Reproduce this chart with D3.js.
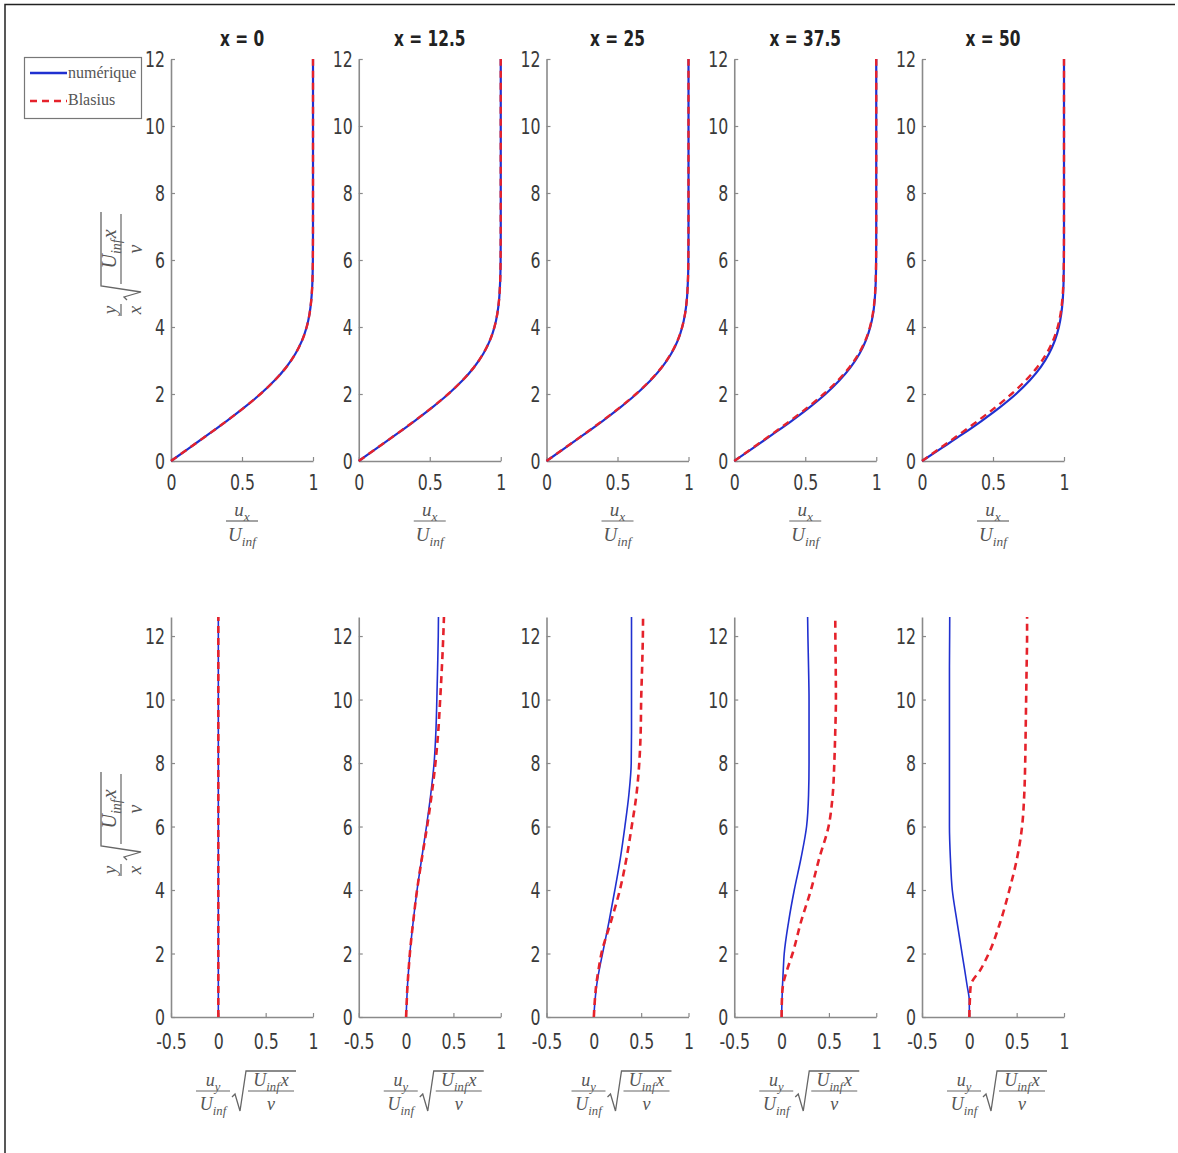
<!DOCTYPE html>
<html><head><meta charset="utf-8">
<script src="https://cdn.jsdelivr.net/npm/d3@7"></script>
<style>
body{margin:0;background:#fff;}
.math{font-family:'Liberation Serif','DejaVu Serif',serif;font-style:italic;fill:#555;}
</style></head>
<body>
<script>
// ---------- data ----------
const titles = ["x = 0", "x = 12.5", "x = 25", "x = 37.5", "x = 50"];
const seriesNames = ["numérique", "Blasius"];
const topYTicks = [0, 2, 4, 6, 8, 10, 12];
const topXTicks = [0, 0.5, 1];
const botYTicks = [0, 2, 4, 6, 8, 10, 12];
const botXTicks = [-0.5, 0, 0.5, 1];

// top row: u_x / U_inf vs eta
const etaTop = [0, 0.4, 0.8, 1.2, 1.6, 2.0, 2.4, 2.8, 3.2, 3.6, 4.0, 4.4, 4.8, 5.2, 5.6, 6.0, 7.0, 8.0, 12.0];
const uxBlasius = [0, 0.1328, 0.2647, 0.3938, 0.5168, 0.6298, 0.7290, 0.8115, 0.8761, 0.9233, 0.9555, 0.9759, 0.9878, 0.9943, 0.9975, 0.9990, 0.9999, 1, 1];
const uxNum1 = [0, 0.1328, 0.2647, 0.3938, 0.5168, 0.6298, 0.7290, 0.8115, 0.8761, 0.9233, 0.9555, 0.9759, 0.9878, 0.9943, 0.9975, 0.9990, 0.9999, 1, 1];
const uxNum2 = [0, 0.133, 0.266, 0.395, 0.518, 0.631, 0.730, 0.812, 0.877, 0.924, 0.956, 0.976, 0.988, 0.994, 0.9976, 0.999, 1, 1, 1];
const uxNum3 = [0, 0.134, 0.267, 0.397, 0.520, 0.633, 0.732, 0.814, 0.878, 0.925, 0.956, 0.976, 0.988, 0.994, 0.9976, 0.999, 1, 1, 1];
const uxNum4 = [0, 0.137, 0.272, 0.405, 0.530, 0.643, 0.740, 0.820, 0.882, 0.927, 0.958, 0.978, 0.989, 0.995, 0.998, 0.999, 1, 1, 1];
const uxNum5 = [0, 0.143, 0.285, 0.421, 0.548, 0.662, 0.758, 0.836, 0.894, 0.936, 0.964, 0.981, 0.991, 0.996, 0.998, 0.9994, 1, 1, 1];
const uxNumerique = [uxNum1, uxNum2, uxNum3, uxNum4, uxNum5];

// bottom row: u_y/U_inf*sqrt(U_inf x/nu) vs eta
const etaBot = [0, 0.5, 1, 1.5, 2, 3, 4, 5, 6, 7, 8, 9, 10, 11, 12, 12.6];
const uyNum1 = [0, 0, 0, 0, 0, 0, 0, 0, 0, 0, 0, 0, 0, 0, 0, 0];
const uyNum2 = [0, 0.007, 0.015, 0.027, 0.04, 0.075, 0.116, 0.165, 0.215, 0.26, 0.296, 0.315, 0.325, 0.333, 0.34, 0.342];
const uyNum3 = [0, 0.012, 0.03, 0.058, 0.092, 0.16, 0.222, 0.28, 0.328, 0.37, 0.395, 0.398, 0.398, 0.398, 0.398, 0.398];
const uyNum4 = [0, 0.004, 0.01, 0.018, 0.028, 0.074, 0.134, 0.205, 0.264, 0.285, 0.29, 0.29, 0.29, 0.285, 0.278, 0.275];
const uyNum5 = [0, 0, -0.024, -0.05, -0.077, -0.13, -0.18, -0.2, -0.21, -0.21, -0.21, -0.21, -0.21, -0.21, -0.208, -0.207];
const uyBla1 = [0, 0, 0, 0, 0, 0, 0, 0, 0, 0, 0, 0, 0, 0, 0, 0];
const uyBla2 = [0, 0.007, 0.015, 0.027, 0.04, 0.075, 0.116, 0.167, 0.222, 0.27, 0.31, 0.34, 0.36, 0.378, 0.393, 0.40];
const uyBla3 = [0, 0.01, 0.025, 0.05, 0.08, 0.18, 0.275, 0.345, 0.40, 0.45, 0.48, 0.495, 0.50, 0.51, 0.518, 0.52];
const uyBla4 = [0, 0.003, 0.015, 0.06, 0.116, 0.205, 0.31, 0.398, 0.496, 0.54, 0.557, 0.567, 0.574, 0.572, 0.568, 0.567];
const uyBla5 = [0, 0.005, 0.015, 0.12, 0.205, 0.328, 0.423, 0.504, 0.557, 0.58, 0.59, 0.595, 0.60, 0.605, 0.61, 0.61];
const uyNumerique = [uyNum1, uyNum2, uyNum3, uyNum4, uyNum5];
const uyBlasius = [uyBla1, uyBla2, uyBla3, uyBla4, uyBla5];

// ---------- drawing ----------
const W = 1178, H = 1153;
const svg = d3.select("body").append("svg").attr("width", W).attr("height", H);
svg.append("rect").attr("width", W).attr("height", H).attr("fill", "#fff");
svg.append("path").attr("d", "M5,1153 V4.5 H1175").attr("fill", "none").attr("stroke", "#222").attr("stroke-width", 1.5);

const blue = "#2030d0", red = "#e5222b", axisCol = "#8a8a8a", textCol = "#3a3a3a";
const panelX = d3.scaleBand().domain(d3.range(5)).range([171, 171 + 5 * 187.75]).paddingInner(0);
const pw = 142;
const tickFont = "'DejaVu Sans',sans-serif";
const SX = 0.75;

const yTop = d3.scaleLinear().domain([0, 12]).range([461, 59]);
const yBot = d3.scaleLinear().domain([0, 12.6]).range([1017, 617]);

function drawAxes(g, x, y, xTicks, yTicks, xFmt, xPad) {
  const ax = g.append("g").attr("transform", `translate(0,${y.range()[0]})`)
    .call(d3.axisBottom(x).tickValues(xTicks).tickSize(-4).tickSizeOuter(0).tickPadding(xPad).tickFormat(xFmt));
  const ay = g.append("g").attr("transform", `translate(${x.range()[0]},0)`)
    .call(d3.axisLeft(y).tickValues(yTicks).tickSize(-4).tickSizeOuter(0).tickPadding(8).tickFormat(d3.format("d")));
  [ax, ay].forEach(a => {
    a.select(".domain").attr("stroke", axisCol).attr("stroke-width", 1.6);
    a.selectAll(".tick line").attr("stroke", axisCol).attr("stroke-width", 1.2);
    a.selectAll(".tick text").attr("fill", textCol).attr("font-size", 21)
      .attr("font-family", tickFont).attr("transform", `scale(${SX},1)`);
  });
  ax.selectAll(".tick text").attr("dy", "0.72em");
  ay.selectAll(".tick text").attr("dy", "0.36em");
}

function drawLine(g, x, y, etas, vals, color, dashed, width) {
  const line = d3.line().x(d => x(d[1])).y(d => y(d[0])).curve(d3.curveMonotoneY);
  g.append("path").datum(etas.map((e, i) => [e, vals[i]]))
    .attr("d", line).attr("fill", "none").attr("stroke", color)
    .attr("stroke-width", width).attr("stroke-dasharray", dashed ? "7,5" : null);
}

function mathText(g, x, y, parts, size) {
  const t = g.append("text").attr("class", "math").attr("x", x).attr("y", y)
    .attr("font-size", size).attr("text-anchor", "middle");
  parts.forEach(p => {
    const ts = t.append("tspan").text(p.t);
    if (p.sub) ts.attr("font-size", size * 0.7).attr("dy", size * 0.25);
    else if (p.back) ts.attr("dy", -size * 0.25).attr("dx", 1);
  });
  return t;
}
const U_inf = [{t: "U"}, {t: "inf", sub: true}];
function frac(g, cx, cy, num, den, size, w) {
  mathText(g, cx, cy - 5, num, size);
  g.append("line").attr("x1", cx - w / 2).attr("x2", cx + w / 2).attr("y1", cy).attr("y2", cy)
    .attr("stroke", "#666").attr("stroke-width", 1.2);
  mathText(g, cx, cy + size + 1, den, size);
}
function sqrtFrac(g, x0, cy, size, w) {
  g.append("path").attr("d", `M${x0},${cy + 6} l3,-3 l5,17 l6,-40 H${x0 + 18 + w}`)
    .attr("fill", "none").attr("stroke", "#666").attr("stroke-width", 1.3);
  const cx = x0 + 16 + w / 2;
  frac(g, cx, cy, [{t: "U"}, {t: "inf", sub: true}, {t: "x", back: true}], [{t: "ν"}], size, w);
}

for (let i = 0; i < 5; i++) {
  const x0 = panelX(i);
  // top panel
  const gt = svg.append("g");
  const xt = d3.scaleLinear().domain([0, 1]).range([x0, x0 + pw]);
  drawAxes(gt, xt, yTop, topXTicks, topYTicks, d => d === 0 || d === 1 ? d3.format("d")(d) : d3.format(".1f")(d), 14);
  drawLine(gt, xt, yTop, etaTop, uxNumerique[i], blue, false, 2.2);
  drawLine(gt, xt, yTop, etaTop, uxBlasius, red, true, 2.4);
  gt.append("g").attr("transform", `translate(${x0 + pw / 2},46) scale(0.7,1)`)
    .append("text").attr("text-anchor", "middle")
    .attr("font-size", 22).attr("font-weight", "bold").attr("font-family", tickFont)
    .attr("fill", "#222").text(titles[i]);
  frac(gt, x0 + pw / 2, 521, [{t: "u"}, {t: "x", sub: true}], U_inf, 19, 32);
  // bottom panel
  const gb = svg.append("g");
  const xb = d3.scaleLinear().domain([-0.5, 1]).range([x0, x0 + pw]);
  drawAxes(gb, xb, yBot, botXTicks, botYTicks, d => d === 0 || d === 1 ? d3.format("d")(d) : d3.format(".1f")(d).replace("−", "-"), 17);
  drawLine(gb, xb, yBot, etaBot, uyNumerique[i], blue, false, 1.6);
  drawLine(gb, xb, yBot, etaBot, uyBlasius[i], red, true, 2.6);
  const bx = x0 + 42;
  frac(gb, bx, 1091, [{t: "u"}, {t: "y", sub: true}], U_inf, 18, 34);
  sqrtFrac(gb, bx + 19, 1091, 18, 46);
}

// y-axis labels (rotated)
function yLabel(cy) {
  const g = svg.append("g").attr("transform", `translate(121,${cy}) rotate(-90)`);
  frac(g, -52, 0, [{t: "y"}], [{t: "x"}], 19, 12);
  sqrtFrac(g, -42, 0, 20, 70);
}
yLabel(258);
yLabel(818);

// legend
const lg = svg.append("g");
lg.append("rect").attr("x", 24.5).attr("y", 57.5).attr("width", 117).attr("height", 61)
  .attr("fill", "#fff").attr("stroke", "#777").attr("stroke-width", 1.2);
lg.append("line").attr("x1", 30).attr("x2", 67).attr("y1", 73).attr("y2", 73).attr("stroke", blue).attr("stroke-width", 2.4);
lg.append("line").attr("x1", 30).attr("x2", 67).attr("y1", 101).attr("y2", 101).attr("stroke", red).attr("stroke-width", 2.6).attr("stroke-dasharray", "7,5");
seriesNames.forEach((n, k) => {
  lg.append("text").attr("x", 68).attr("y", 78 + k * 27).attr("font-size", 16)
    .attr("font-family", "'Liberation Serif',serif").attr("fill", "#555").text(n);
});
</script>
</body></html>
